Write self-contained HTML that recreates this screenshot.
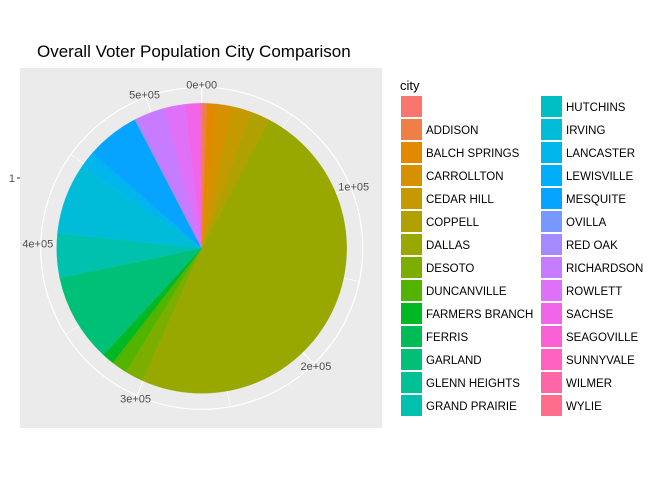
<!DOCTYPE html>
<html><head><meta charset="utf-8"><style>
body{margin:0;background:#fff;}
svg{display:block;font-family:"Liberation Sans",Arial,sans-serif;}
</style></head><body>
<svg id="chart" width="672" height="480" viewBox="0 0 672 480">
<text x="37" y="57" font-size="17" fill="#000">Overall Voter Population City Comparison</text>
<rect x="20" y="68" width="362" height="360" fill="#ebebeb"/>
<g id="grid"></g><g id="slices"></g><g id="ticks"></g>
<text x="15" y="182" font-size="11" fill="#4d4d4d" text-anchor="end">1</text>
<line x1="17" y1="178" x2="20" y2="178" stroke="#333" stroke-width="1"/>
<text x="400" y="90" font-size="13" fill="#000">city</text>
<g id="legend"></g>
</svg>
<script>
const cities=["","ADDISON","BALCH SPRINGS","CARROLLTON","CEDAR HILL","COPPELL","DALLAS","DESOTO","DUNCANVILLE","FARMERS BRANCH","FERRIS","GARLAND","GLENN HEIGHTS","GRAND PRAIRIE","HUTCHINS","IRVING","LANCASTER","LEWISVILLE","MESQUITE","OVILLA","RED OAK","RICHARDSON","ROWLETT","SACHSE","SEAGOVILLE","SUNNYVALE","WILMER","WYLIE"];
const voters=[450,2800,5400,9600,11200,11500,259600,10900,9300,6900,600,51500,900,25600,450,41700,8400,1500,31200,450,900,16900,12500,8700,450,300,150,150];
const tickValues=[0,100000,200000,300000,400000,500000];
const tickLabels=["0e+00","1e+05","2e+05","3e+05","4e+05","5e+05"];
const ns="http://www.w3.org/2000/svg";
const cx=201.7,cy=248.3,R=145,Rg=161,Rl=164;
const total=voters.reduce((a,b)=>a+b,0);
const ang=v=>v/total*2*Math.PI;
const pt=(a,r)=>[cx+r*Math.sin(a),cy-r*Math.cos(a)];
function hcl(h){const L=65,C=100,hr=h*Math.PI/180;const u=C*Math.cos(hr),v=C*Math.sin(hr);
const Xn=95.047,Yn=100,Zn=108.883,d=Xn+15*Yn+3*Zn,un=4*Xn/d,vn=9*Yn/d;
const Y=Yn*Math.pow((L+16)/116,3),up=u/(13*L)+un,vp=v/(13*L)+vn;
const X=Y*9*up/(4*vp),Z=Y*(12-3*up-20*vp)/(4*vp);
const x=X/100,y=Y/100,z=Z/100;
let r=3.2404542*x-1.5371385*y-0.4985314*z,g=-0.9692660*x+1.8760108*y+0.0415560*z,b=0.0556434*x-0.2040259*y+1.0572252*z;
const gm=c=>{c=c<=0.0031308?12.92*c:1.055*Math.pow(c,1/2.4)-0.055;return Math.round(Math.max(0,Math.min(1,c))*255);};
return `rgb(${gm(r)},${gm(g)},${gm(b)})`;}
const n=cities.length;
const colors=cities.map((c,i)=>hcl(15+i*360/n));
function mk(tag,attrs,parent){const e=document.createElementNS(ns,tag);for(const k in attrs)e.setAttribute(k,attrs[k]);document.getElementById(parent).appendChild(e);return e;}
// grid
const gc=mk('circle',{cx:cx,cy:cy,r:Rg,fill:'none',stroke:'#fff','stroke-width':1.2},'grid');


for(let v=0;v<=500000;v+=50000){const [x,y]=pt(ang(v),Rg);
const l=mk('line',{x1:cx,y1:cy,x2:x,y2:y,stroke:'#fff','stroke-width':v%100000===0?1.2:0.6},'grid');

}
// slices
let cum=0;
voters.forEach((v,i)=>{const a0=ang(cum),a1=ang(cum+v);cum+=v;
const [x0,y0]=pt(a0,R),[x1,y1]=pt(a1,R);const large=(a1-a0)>Math.PI?1:0;
const p=mk('path',{d:`M${cx},${cy}L${x0},${y0}A${R},${R} 0 ${large} 1 ${x1},${y1}Z`,fill:colors[i],stroke:colors[i],'stroke-width':0.3},'slices');

});
// ticks
tickValues.forEach((v,i)=>{const [x,y]=pt(ang(v),Rl);
const t=mk('text',{x:x,y:y+4,'font-size':11,fill:'#4d4d4d','text-anchor':'middle'},'ticks');t.textContent=tickLabels[i];

});
// legend
cities.forEach((c,i)=>{const col=Math.floor(i/14),row=i%14;const x=col?541:401,y=96+row*23;
const r=mk('rect',{x:x,y:y,width:21,height:21,fill:colors[i]},'legend');


const t=mk('text',{x:x+25,y:y+15,'font-size':11.5,fill:'#000'},'legend');t.textContent=c;

});
</script>
</body></html>
